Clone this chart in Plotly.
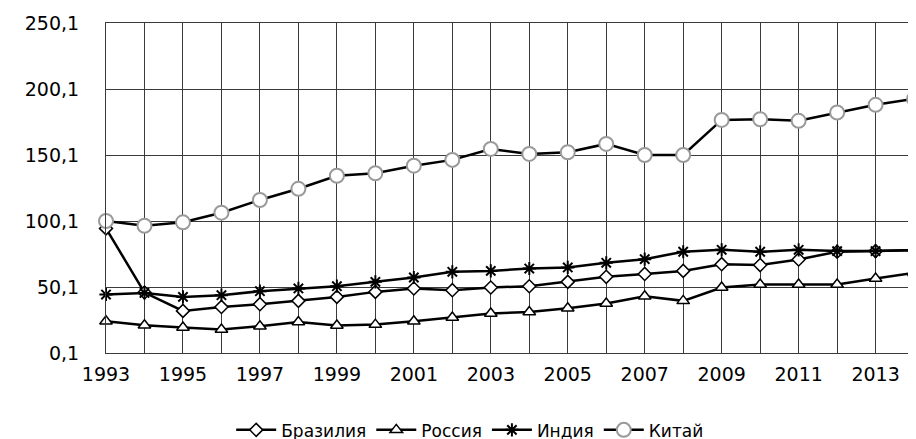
import plotly.graph_objects as go

years = list(range(1993, 2015))
brazil = [94.5, 45.9, 32.0, 35.0, 37.1, 39.6, 42.6, 46.4, 49.0, 47.7, 49.7, 50.7, 54.0, 57.8, 60.0, 62.3, 67.4, 66.7, 71.0, 76.8, 77.3, 78.0]
russia = [24.2, 21.1, 19.4, 17.9, 20.4, 23.6, 20.9, 21.6, 24.2, 27.0, 30.0, 31.2, 34.0, 37.6, 43.1, 39.6, 49.7, 52.0, 52.0, 52.0, 56.6, 60.8]
india = [44.4, 45.6, 42.6, 43.9, 46.9, 49.0, 50.7, 54.0, 57.3, 61.6, 62.3, 64.1, 64.9, 68.4, 71.2, 76.8, 78.3, 76.8, 78.3, 77.3, 77.3, 78.0]
china = [100.1, 96.5, 99.1, 106.4, 116.0, 124.5, 134.4, 136.3, 142.0, 146.4, 154.7, 150.9, 152.2, 158.5, 150.1, 150.1, 176.7, 177.2, 176.0, 182.3, 188.1, 192.6]

names = ["Бразилия", "Россия", "Индия", "Китай"]
ytickvals = [0.1, 50.1, 100.1, 150.1, 200.1, 250.1]
yticktext = ["0,1", "50,1", "100,1", "150,1", "200,1", "250,1"]
xtickvals = list(range(1993, 2014, 2))

FONT = "DejaVu Sans"
GRID = "#3a3a3a"

fig = go.Figure()
fig.add_trace(go.Scatter(x=years, y=brazil, name=names[0], mode="lines+markers",
                         line=dict(color="black", width=2.5),
                         marker=dict(symbol="diamond", size=10, color="white",
                                     line=dict(color="black", width=1.5)),
                         cliponaxis=False))
fig.add_trace(go.Scatter(x=years, y=russia, name=names[1], mode="lines+markers",
                         line=dict(color="black", width=2.5),
                         marker=dict(symbol="triangle-up", size=11, color="white",
                                     line=dict(color="black", width=1.5)),
                         cliponaxis=False))
fig.add_trace(go.Scatter(x=years, y=india, name=names[2], mode="lines+markers",
                         line=dict(color="black", width=2.5),
                         marker=dict(symbol="asterisk-open", size=11, color="black",
                                     line=dict(color="black", width=2)),
                         cliponaxis=False))
fig.add_trace(go.Scatter(x=years, y=china, name=names[3], mode="lines+markers",
                         line=dict(color="black", width=2.5),
                         marker=dict(symbol="circle", size=14, color="white",
                                     line=dict(color="#9a9a9a", width=2)),
                         cliponaxis=False))

fig.update_layout(
    width=908, height=439,
    margin=dict(l=98, r=0, t=15, b=94, autoexpand=False),
    paper_bgcolor="white", plot_bgcolor="white",
    font=dict(family=FONT, size=19, color="black"),
    showlegend=True,
    legend=dict(orientation="h", xref="container", yref="container",
                x=0.509, xanchor="center", y=0.038, yanchor="middle",
                font=dict(family=FONT, size=17, color="black"),
                itemwidth=40, tracegroupgap=0, bgcolor="rgba(0,0,0,0)"),
    xaxis=dict(range=[1993, 2014.05], tickvals=xtickvals, ticks="",
               showgrid=True, gridcolor=GRID, gridwidth=1,
               minor=dict(dtick=1, tick0=1993, showgrid=True, gridcolor=GRID, gridwidth=1),
               showline=True, linecolor=GRID, linewidth=1, mirror=True,
               zeroline=False, ticklabelstandoff=4, automargin=False,
               tickfont=dict(family=FONT, size=19, color="black")),
    yaxis=dict(range=[0.1, 250.1], tickvals=ytickvals, ticktext=yticktext, ticks="",
               showgrid=True, gridcolor=GRID, gridwidth=1,
               showline=True, linecolor=GRID, linewidth=1, mirror=True,
               zeroline=False, ticklabelstandoff=22, automargin=False,
               tickfont=dict(family=FONT, size=19, color="black")),
)

fig.write_html("out.html")
